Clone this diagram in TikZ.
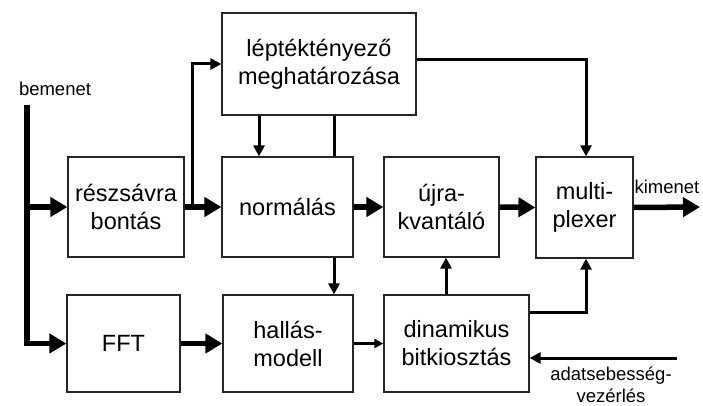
\documentclass[tikz,border=0pt]{standalone}
\usepackage{fontspec}
\setmainfont{Liberation Sans}
\usetikzlibrary{arrows.meta,calc}
\begin{document}
\begin{tikzpicture}[x=1pt,y=-1pt,
  blk/.style={draw=black!85, line width=1.2pt, align=center,
    inner sep=0pt, font=\fontsize{23.5}{28}\selectfont},
  lbl/.style={font=\fontsize{18.5}{22}\selectfont, inner sep=0pt, align=center},
  bigarrow/.style={line width=5.5pt, -{Triangle[length=17pt,width=19pt]}},
  bigline/.style={line width=5.5pt},
  medline/.style={line width=3pt},
  medarrow/.style={line width=3pt, -{Triangle[length=11pt,width=11pt]}},
  thinarrow/.style={line width=2.2pt, -{Triangle[length=9pt,width=9pt]}}
]
\useasboundingbox (0,0) rectangle (703,406);

% processing blocks
\node[blk, minimum width=116pt, minimum height=100pt] (rb)   at (126,207)   {részsávra\\bontás};
\node[blk, minimum width=113pt, minimum height=97pt]  (fft)  at (123.5,343.5) {FFT};
\node[blk, minimum width=194pt, minimum height=102pt] (lep)  at (319,64)    {léptéktényező\\meghatározása};
\node[blk, minimum width=131pt, minimum height=100pt] (norm) at (287.5,207) {normálás};
\node[blk, minimum width=130pt, minimum height=97pt]  (hall) at (288,343.5) {hallás-\\modell};
\node[blk, minimum width=115pt, minimum height=100pt] (ujra) at (441.5,207) {újra-\\kvantáló};
\node[blk, minimum width=97pt,  minimum height=101pt] (mux)  at (584.5,207.5) {multi-\\plexer};
\node[blk, minimum width=145pt, minimum height=97pt]  (din)  at (456.5,343.5) {dinamikus\\bitkiosztás};

% external labels
\node[lbl] (in)   at (55,89)   {bemenet};
\node[lbl] (out)  at (667,187) {kimenet};
\node[lbl] (rate) at (611,385) {adatsebesség-\\vezérlés};

% helper points
\coordinate (intop) at (27,105);
\coordinate (branch) at (192,207);
\coordinate (outend) at (700,207);
\coordinate (ratein) at (677,358);

% input splits to the filter bank and the FFT
\draw[bigline] (intop) -- (intop |- fft.west);
\draw[bigarrow] ($(intop |- fft.west)+(-2.75,0)$) -- (fft.west);
\draw[bigarrow] (intop |- rb.west) -- (rb.west);

% main signal path
\draw[bigarrow] (rb.east) -- (norm.west);
\draw[bigarrow] (norm.east) -- (ujra.west);
\draw[bigarrow] (ujra.east) -- (mux.west);
\draw[bigarrow] (mux.east) -- (outend);
\draw[bigarrow] (fft.east) -- (hall.west);

% scale factor side chain
\draw[medarrow] (branch) |- (lep.west);
\draw[medarrow] (lep.south -| 259,0) -- (norm.north -| 259,0);
\draw[medline] (lep.south -| 334,0) -- (norm.north -| 334,0);
\draw[medarrow] (norm.south -| 334,0) -- (hall.north -| 334,0);
\draw[medarrow] ($(lep.east)+(0,-4)$) -| (mux.north -| 586,0);

% bit allocation
\draw[thinarrow] (hall.east) -- (din.west);
\draw[medarrow] (din.north -| 446,0) -- (ujra.south -| 446,0);
\draw[medarrow] (din.east |- 0,312) -| (mux.south -| 586,0);
\draw[medarrow] (ratein) -- (din.east |- ratein);
\end{tikzpicture}
\end{document}
